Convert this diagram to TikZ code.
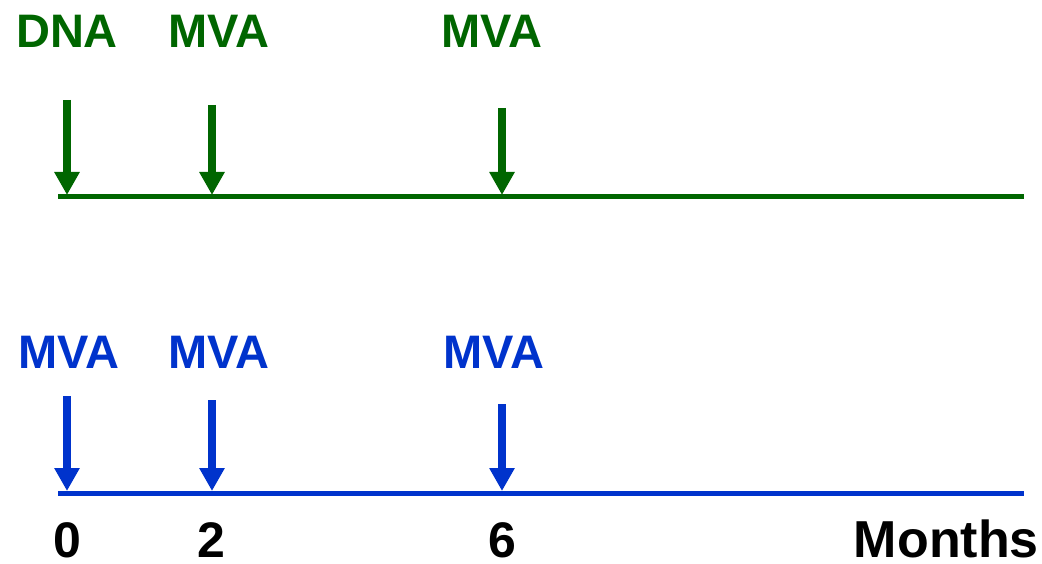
\documentclass[tikz,border=0pt]{standalone}
\usepackage{fontspec}
\setmainfont{Liberation Sans}
\usetikzlibrary{arrows.meta}
\definecolor{vacgreen}{RGB}{0,102,0}
\definecolor{vacblue}{RGB}{0,51,204}

\begin{document}
\begin{tikzpicture}[x=1pt,y=-1pt,
    dose/.style={line width=8pt,-{Triangle[width=24pt,length=23pt]}},
    timeline/.style={line width=5pt},
    vaccine/.style={anchor=base,inner sep=0pt,font=\fontsize{47}{47}\selectfont\bfseries},
    month/.style={anchor=base,inner sep=0pt,font=\fontsize{50}{50}\selectfont\bfseries}]
    \useasboundingbox (0,0) rectangle (1042,564);

    % Define the time axis
    \def\xo{67}    % position of month 0
    \def\dx{72.5}  % length of one month

    % Timeline ends
    \coordinate (gL) at (58,197);
    \coordinate (gR) at (1024,197);
    \coordinate (bL) at (58,493);
    \coordinate (bR) at (1024,493);

    % Draw the two timelines
    \draw[timeline, vacgreen] (gL) -- (gR);
    \draw[timeline, vacblue] (bL) -- (bR);

    % Vaccine labels, prime group
    \node[vaccine, text=vacgreen] (g0) at (67,48) {DNA};
    \node[vaccine, text=vacgreen] (g2) at (218.5,48) {MVA};
    \node[vaccine, text=vacgreen] (g6) at (491.5,48) {MVA};

    % Vaccine labels, boost only group
    \node[vaccine, text=vacblue] (b0) at (68.5,368) {MVA};
    \node[vaccine, text=vacblue] (b2) at (218.5,368) {MVA};
    \node[vaccine, text=vacblue] (b6) at (493.5,368) {MVA};

    % Dose arrows
    \foreach \m/\gtop/\btop in {0/100/396, 2/105/400, 6/108/404} {
        \coordinate (gs\m) at ({\xo+\dx*\m},\gtop);
        \coordinate (ge\m) at ({\xo+\dx*\m},195);
        \coordinate (bs\m) at ({\xo+\dx*\m},\btop);
        \coordinate (be\m) at ({\xo+\dx*\m},491);
        \draw[dose, vacgreen] (gs\m) -- (ge\m);
        \draw[dose, vacblue] (bs\m) -- (be\m);
    }

    % Month numbers
    \node[month] (m0) at (67,557) {0};
    \node[month] (m2) at (211,557) {2};
    \node[month] (m6) at (502,557) {6};
    \node[month, anchor=base east, font=\fontsize{52}{52}\selectfont\bfseries] (months) at (1039,557) {Months};
\end{tikzpicture}
\end{document}
